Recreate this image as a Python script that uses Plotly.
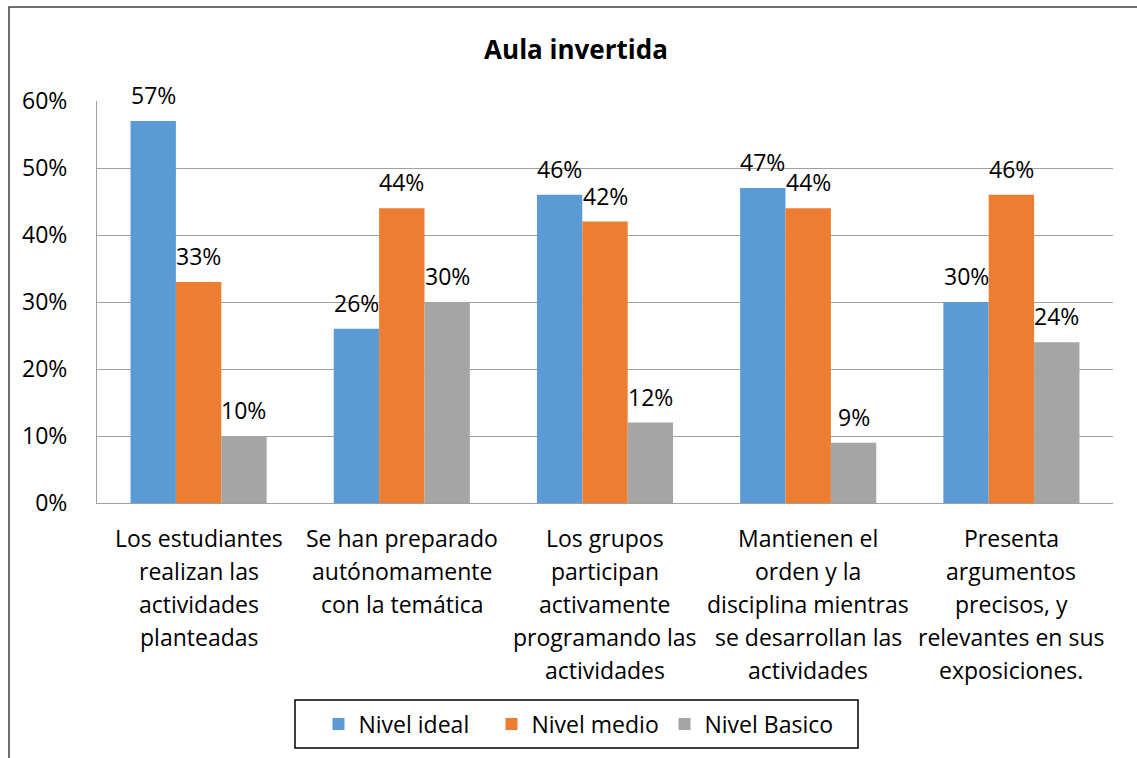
import plotly.graph_objects as go

categories = [
    "Los estudiantes<br>realizan las<br>actividades<br>planteadas",
    "Se han preparado<br>autónomamente<br>con la temática",
    "Los grupos<br>participan<br>activamente<br>programando las<br>actividades",
    "Mantienen el<br>orden y la<br>disciplina mientras<br>se desarrollan las<br>actividades",
    "Presenta<br>argumentos<br>precisos, y<br>relevantes en sus<br>exposiciones.",
]
series_names = ["Nivel ideal", "Nivel medio", "Nivel Basico"]
nivel_ideal = [0.57, 0.26, 0.46, 0.47, 0.30]
nivel_medio = [0.33, 0.44, 0.42, 0.44, 0.46]
nivel_basico = [0.10, 0.30, 0.12, 0.09, 0.24]
colors = ["#5B9BD5", "#ED7D31", "#A5A5A5"]
y_ticks = [0, 0.1, 0.2, 0.3, 0.4, 0.5, 0.6]

FONT = "Open Sans"
W, H = 1137, 758
ML, MT = 97, 101
PW, PH = 1016, 402
MR, MB = W - ML - PW, H - MT - PH
BARGAP = 0.33


def px_x(p):
    return (p - ML) / PW


def px_y(p):
    return (MT + PH - p) / PH


fig = go.Figure()
all_series = [nivel_ideal, nivel_medio, nivel_basico]
nser = len(all_series)
bw = (1 - BARGAP) / nser
for k, (name, vals, c) in enumerate(zip(series_names, all_series, colors)):
    fig.add_trace(go.Bar(
        x=list(range(len(categories))), y=vals, name=name, marker_color=c,
        marker_line_width=0,
    ))
    for i, v in enumerate(vals):
        fig.add_annotation(x=i + (k - (nser - 1) / 2) * bw, xref="x", y=v, yref="y",
                           yanchor="middle", yshift=26, text=f"{round(v*100)}%",
                           showarrow=False,
                           font=dict(family=FONT, size=23, color="black"))

# category labels as multi-line annotations
for i, cat in enumerate(categories):
    for j, line in enumerate(cat.split("<br>")):
        fig.add_annotation(x=i, xref="x", y=0, yref="paper", yanchor="middle",
                           yshift=-35 - 33 * j, text=line, showarrow=False,
                           font=dict(family=FONT, size=23, color="black"))

# outer chart border (left and top edges; the rest lies outside the view)
fig.add_shape(type="path", xref="paper", yref="paper",
              path=f"M {px_x(9)},{px_y(H + 5)} L {px_x(9)},{px_y(7)} L {px_x(W + 5)},{px_y(7)}",
              line=dict(color="#404040", width=1.5), layer="below")
# legend box
fig.add_shape(type="rect", xref="paper", yref="paper",
              x0=px_x(295), x1=px_x(858), y0=px_y(748), y1=px_y(700),
              line=dict(color="black", width=1.5), layer="below")

fig.update_layout(
    width=W, height=H,
    margin=dict(l=ML, r=MR, t=MT, b=MB),
    paper_bgcolor="white", plot_bgcolor="white",
    barmode="group", bargap=BARGAP, bargroupgap=0,
    title=dict(text="<b>Aula invertida</b>", x=576 / W, xanchor="center",
               y=1 - 50 / H, yanchor="middle",
               font=dict(family=FONT, size=26, color="black")),
    legend=dict(orientation="h", x=px_x(578), xanchor="center",
                y=px_y(724), yanchor="middle",
                borderwidth=0, bgcolor="rgba(0,0,0,0)",
                font=dict(family=FONT, size=23, color="black"),
                itemwidth=30, entrywidth=128),
    showlegend=True,
)
fig.update_xaxes(range=[-0.5, len(categories) - 0.5], showticklabels=False,
                 showline=True, linecolor="#A0A0A0", linewidth=1, ticks="",
                 showgrid=False, zeroline=False)
fig.update_yaxes(range=[0, 0.6], tickvals=y_ticks, tickformat=".0%",
                 showgrid=True, gridcolor="#A0A0A0", gridwidth=1,
                 showline=True, linecolor="#A0A0A0", linewidth=1,
                 zeroline=False, ticks="", ticklabelstandoff=24,
                 tickfont=dict(family=FONT, size=23, color="black"))

fig.write_html("out.html", config={"displayModeBar": False},
               post_script="document.body.style.margin='0';document.body.style.overflow='hidden';")
